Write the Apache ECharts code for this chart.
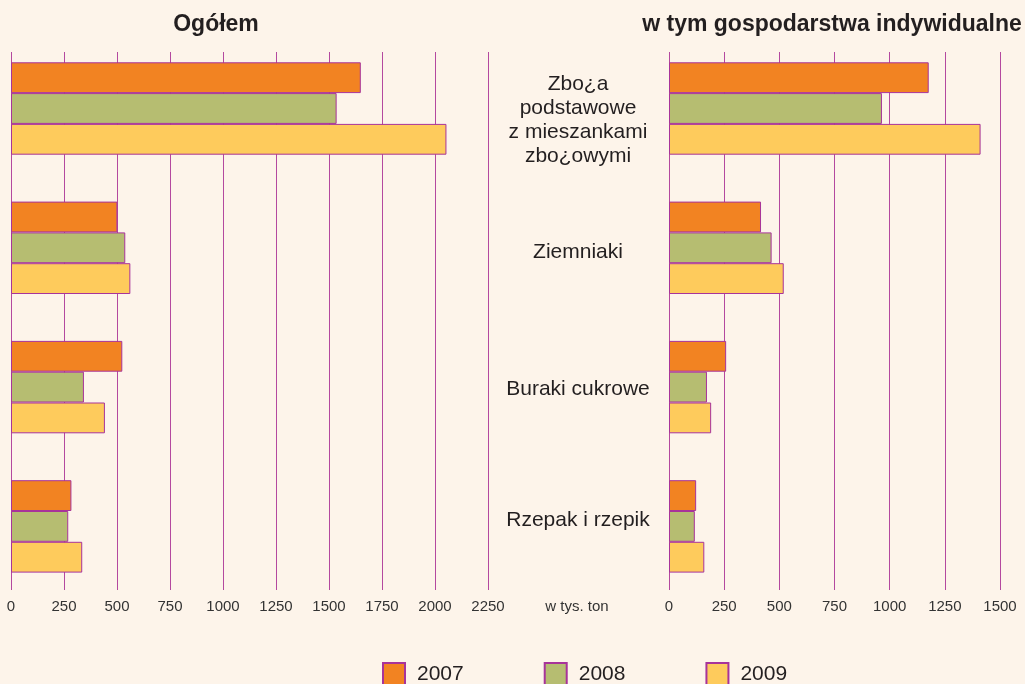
<!DOCTYPE html>
<html>
<head>
<meta charset="utf-8">
<script src="https://cdn.jsdelivr.net/npm/echarts@6/dist/echarts.min.js"></script>
<style>
  body { margin: 0; background: #fdf4ea; }
  #chart { width: 1025px; height: 684px; }
</style>
</head>
<body>
<div id="chart"></div>
<script>
// kategorie i lata
const categories = ["Zbo¿a\npodstawowe\nz mieszankami\nzbo¿owymi", "Ziemniaki", "Buraki cukrowe", "Rzepak i rzepik"];
const years = ["2007", "2008", "2009"];

// Ogółem (tys. ton)
const total2007 = [1650, 502, 525, 285];
const total2008 = [1536, 539, 344, 270];
const total2009 = [2054, 563, 443, 336];

// w tym gospodarstwa indywidualne (tys. ton)
const indiv2007 = [1177, 417, 259, 123];
const indiv2008 = [965, 465, 172, 117];
const indiv2009 = [1412, 520, 191, 160];

const colors = ["#f28322", "#b6bd71", "#fecb5c"];
const border = "#a8339a";
const gridLine = "#b4489f";
const font = "'Liberation Sans', Arial, sans-serif";

// pionowe przesunięcie etykiet kategorii (px, + w dół)
const labelNudge = [12, 4, 2, -6];

const myChart = echarts.init(document.getElementById("chart"));

function lineAxis(gridIndex, max) {
  return {
    type: "value",
    gridIndex: gridIndex,
    min: 0,
    max: max,
    interval: 250,
    axisLine: { show: false },
    axisTick: { show: false },
    splitLine: { show: true, lineStyle: { color: gridLine, width: 1 } },
    axisLabel: {
      margin: 9,
      fontSize: 15,
      color: "#333",
      fontFamily: font,
      formatter: (v) => String(v)
    }
  };
}
function barAxis(gridIndex, max) {
  return {
    type: "value",
    gridIndex: gridIndex,
    min: 0,
    max: max,
    show: false,
    splitLine: { show: false }
  };
}
function barSeries(name, data, idx, axisIdx) {
  return {
    name: name,
    type: "bar",
    xAxisIndex: axisIdx,
    yAxisIndex: axisIdx,
    data: data,
    barWidth: 30.8,
    barGap: "0%",
    itemStyle: { color: colors[idx], borderColor: border, borderWidth: 1 }
  };
}

// pusta linia o zadanej wysokości przesuwa blok tekstu
function categoryLabel(value, index) {
  const n = labelNudge[index] || 0;
  const lines = value.split("\n").map((l) => "{t|" + l + "}");
  const pad = "{s" + Math.abs(n) + "| }";
  if (n > 0) lines.unshift(pad);
  if (n < 0) lines.push(pad);
  return lines.join("\n");
}
const spacerRich = {};
labelNudge.forEach((n) => {
  spacerRich["s" + Math.abs(n)] = { lineHeight: Math.abs(n) * 2, fontSize: 1 };
});

myChart.setOption({
  backgroundColor: "#fdf4ea",
  animation: false,
  textStyle: { fontFamily: font },
  title: [
    {
      text: "Ogółem",
      left: 211,
      textAlign: "center",
      top: 8,
      textStyle: { fontSize: 23, fontWeight: "bold", color: "#231f20", fontFamily: font }
    },
    {
      text: "w tym gospodarstwa indywidualne",
      left: 827,
      textAlign: "center",
      top: 8,
      textStyle: { fontSize: 23, fontWeight: "bold", color: "#231f20", fontFamily: font }
    }
  ],
  legend: {
    data: years,
    left: 377,
    top: 657,
    icon: "rect",
    itemWidth: 22,
    itemHeight: 22,
    itemGap: 80,
    textStyle: { fontSize: 21, color: "#231f20", fontFamily: font, padding: [0, 0, 0, 7] }
  },
  graphic: [
    {
      type: "text",
      x: 577,
      y: 607,
      style: {
        text: "w tys. ton",
        fill: "#333",
        font: "15px " + font,
        textAlign: "center",
        textVerticalAlign: "middle"
      }
    }
  ],
  grid: [
    { left: 11, top: 52, width: 477, height: 538 },
    { left: 11, top: 38.85, width: 477, height: 557.2 },
    { left: 669, top: 52, width: 331, height: 538 },
    { left: 669, top: 38.85, width: 331, height: 557.2 }
  ],
  xAxis: [lineAxis(0, 2250), barAxis(1, 2250), lineAxis(2, 1500), barAxis(3, 1500)],
  yAxis: [
    { type: "category", gridIndex: 0, data: categories, show: false },
    { type: "category", gridIndex: 1, data: categories, inverse: true, show: false },
    { type: "category", gridIndex: 2, data: categories, show: false },
    {
      type: "category",
      gridIndex: 3,
      inverse: true,
      data: categories,
      axisLine: { show: false },
      axisTick: { show: false },
      axisLabel: {
        margin: 91,
        align: "center",
        verticalAlign: "middle",
        formatter: categoryLabel,
        rich: Object.assign(
          { t: { fontSize: 21, lineHeight: 24, color: "#231f20", fontFamily: font, align: "center" } },
          spacerRich
        )
      }
    }
  ],
  series: [
    barSeries("2007", total2007, 0, 1),
    barSeries("2008", total2008, 1, 1),
    barSeries("2009", total2009, 2, 1),
    barSeries("2007", indiv2007, 0, 3),
    barSeries("2008", indiv2008, 1, 3),
    barSeries("2009", indiv2009, 2, 3)
  ]
});
</script>
</body>
</html>
